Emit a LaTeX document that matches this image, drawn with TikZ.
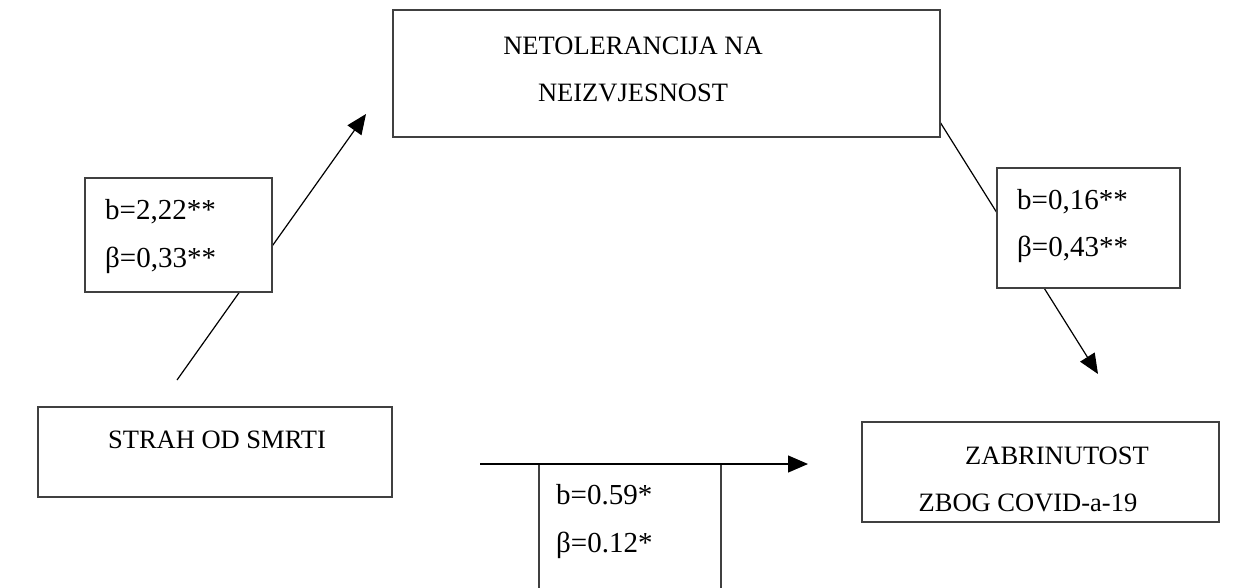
\documentclass[tikz,border=0pt]{standalone}
\usepackage{fontspec}
\setmainfont{Liberation Serif}
\usetikzlibrary{arrows.meta}
\begin{document}
\begin{tikzpicture}[x=1pt,y=-1pt,
  box/.style={draw=black!75,line width=1.3pt,fill=white,rectangle,inner sep=0pt},
  txt/.style={anchor=base,inner sep=0pt,font=\fontsize{26.5}{30}\selectfont},
  ltxt/.style={anchor=base west,inner sep=0pt,font=\fontsize{29}{33}\selectfont},
  conn/.style={draw=black,line width=1.2pt},
  arr/.style={conn,-{Triangle[length=20pt,width=17pt]}}]
\useasboundingbox (0,0) rectangle (1253,587);
% connector end points
\coordinate (a1s) at (177,380);
\coordinate (a1e) at (366,114);
\coordinate (a2s) at (940,122);
\coordinate (a2e) at (1098,374);
\coordinate (a3s) at (480,464);
\coordinate (a3e) at (808,464);
% connectors (behind label boxes)
\draw[arr] (a1s) -- (a1e);
\draw[arr] (a2s) -- (a2e);
% boxes
\node[box,minimum width=547pt,minimum height=127pt] (net) at (666.5,73.5) {};
\node[box,minimum width=187pt,minimum height=114pt] (lab1) at (178.5,235) {};
\node[box,minimum width=183pt,minimum height=120pt] (lab2) at (1088.5,228) {};
\node[box,minimum width=354pt,minimum height=90pt] (strah) at (215,452) {};
\node[box,minimum width=357pt,minimum height=100pt] (zab) at (1040.5,472) {};
\draw[draw=black!75,line width=1.3pt,fill=white] (539,590) -- (539,464) -- (721,464) -- (721,590);
\draw[arr] (a3s) -- (a3e);
% texts
\node[txt] (t1) at (633,54) {NETOLERANCIJA NA};
\node[txt] (t2) at (633,101) {NEIZVJESNOST};
\node[ltxt] (t3) at (105,219) {b=2,22**};
\node[ltxt] (t4) at (105,267) {β=0,33**};
\node[ltxt] (t5) at (1017,209) {b=0,16**};
\node[ltxt] (t6) at (1017,256) {β=0,43**};
\node[txt] (t7) at (217,448) {STRAH OD SMRTI};
\node[txt] (t8) at (1057,464) {ZABRINUTOST};
\node[txt] (t9) at (1028,511) {ZBOG COVID-a-19};
\node[ltxt] (t10) at (556,504) {b=0.59*};
\node[ltxt] (t11) at (556,552) {β=0.12*};
\end{tikzpicture}
\end{document}
